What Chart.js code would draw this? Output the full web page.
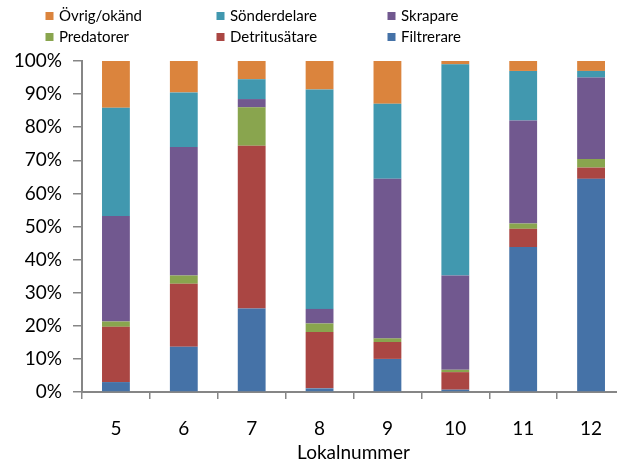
<!DOCTYPE html>
<html>
<head>
<meta charset="utf-8">
<script src="https://cdn.jsdelivr.net/npm/chart.js@4"></script>
<style>
  html, body { margin: 0; padding: 0; background: #fff; overflow: hidden; }
  #wrap { position: relative; width: 630px; height: 464px; }
</style>
</head>
<body>
<div id="wrap"><canvas id="chart"></canvas></div>
<script>
// Lokaler och andel (%) per funktionell grupp
const lokaler = ['5', '6', '7', '8', '9', '10', '11', '12'];
const filtrerare    = [3.0, 13.7, 25.2, 1.1, 10.0, 0.7, 43.8, 64.4];
const detritusatare = [16.7, 19.0, 49.2, 17.0, 5.1, 5.3, 5.5, 3.4];
const predatorer    = [1.6, 2.5, 11.6, 2.6, 1.1, 0.7, 1.6, 2.6];
const skrapare      = [31.9, 38.8, 2.5, 4.4, 48.2, 28.5, 31.1, 24.6];
const sonderdelare  = [32.7, 16.5, 6.0, 66.3, 22.7, 63.8, 15.0, 2.0];
const ovrig         = [14.1, 9.5, 5.5, 8.6, 12.9, 1.0, 3.0, 3.0];
const yTicks = [0, 10, 20, 30, 40, 50, 60, 70, 80, 90, 100];

const axisGrey = '#868686';
const fontFam = 'Lato, "Liberation Sans", sans-serif';

// Legend drawn as a 3x2 grid, like the original
const gridLegend = {
    id: 'gridLegend',
    afterDraw(chart) {
        const ctx = chart.ctx;
        const cols = [59, 230, 401];
        const rows = [16, 37];
        const items = chart.data.datasets.slice().reverse();
        ctx.save();
        ctx.font = '15px ' + fontFam;
        ctx.textBaseline = 'middle';
        ctx.fillStyle = '#000';
        items.forEach((ds, i) => {
            const x = cols[i % 3];
            const y = rows[Math.floor(i / 3)];
            ctx.fillStyle = ds.backgroundColor;
            ctx.fillRect(x - 13.5, y - 4, 8, 8);
            ctx.fillStyle = '#000';
            ctx.fillText(ds.label, x, y + 0.5);
        });
        ctx.restore();
    }
};

const ctx = document.getElementById('chart').getContext('2d');
new Chart(ctx, {
    type: 'bar',
    data: {
        labels: lokaler,
        datasets: [
            { label: 'Filtrerare', data: filtrerare, backgroundColor: '#4572A7' },
            { label: 'Detritusätare', data: detritusatare, backgroundColor: '#AA4643' },
            { label: 'Predatorer', data: predatorer, backgroundColor: '#89A54E' },
            { label: 'Skrapare', data: skrapare, backgroundColor: '#71588F' },
            { label: 'Sönderdelare', data: sonderdelare, backgroundColor: '#4198AF' },
            { label: 'Övrig/okänd', data: ovrig, backgroundColor: '#DB843D' }
        ]
    },
    options: {
        responsive: true,
        maintainAspectRatio: false,
        animation: false,
        barPercentage: 0.41,
        categoryPercentage: 1,
        layout: { padding: { top: 61, right: 5, left: 0, bottom: 0 } },
        plugins: {
            legend: { display: false },
            tooltip: { enabled: false }
        },
        scales: {
            x: {
                stacked: true,
                offset: true,
                grid: {
                    offset: true,
                    drawOnChartArea: false,
                    tickLength: 7,
                    color: axisGrey,
                    lineWidth: 1.5
                },
                border: { color: axisGrey, width: 2 },
                ticks: {
                    color: '#000',
                    padding: 18,
                    maxRotation: 0,
                    font: { family: fontFam, size: 19 }
                },
                title: {
                    display: true,
                    text: 'Lokalnummer',
                    color: '#000',
                    padding: { top: 0, bottom: 0 },
                    font: { family: fontFam, size: 19 }
                },
                afterFit(scale) { scale.height = 72; }
            },
            y: {
                stacked: true,
                min: 0,
                max: 100,
                afterBuildTicks(scale) {
                    scale.ticks = yTicks.map(v => ({ value: v }));
                },
                grid: {
                    drawOnChartArea: false,
                    tickLength: 9,
                    color: axisGrey,
                    lineWidth: 1.5
                },
                border: { color: axisGrey, width: 2 },
                ticks: {
                    color: '#000',
                    padding: 11,
                    font: { family: fontFam, size: 19 },
                    callback: v => v + '%'
                },
                afterFit(scale) { scale.width = 82; }
            }
        }
    },
    plugins: [gridLegend]
});
</script>
</body>
</html>
